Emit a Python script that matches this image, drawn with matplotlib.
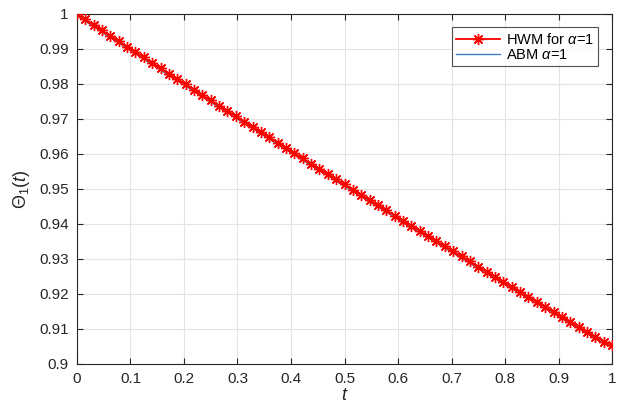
import matplotlib
matplotlib.use('Agg')
import matplotlib.pyplot as plt

# collocation points, 65 nodes on [0,1]
t = [k / 64 for k in range(65)]

hwm = [1.0000, 0.99844, 0.99688, 0.99532, 0.99377, 0.99222, 0.99067, 0.98912,
       0.98758, 0.98604, 0.98450, 0.98296, 0.98143, 0.97990, 0.97837, 0.97684,
       0.97531, 0.97379, 0.97227, 0.97075, 0.96923, 0.96772, 0.96621, 0.96470,
       0.96319, 0.96169, 0.96018, 0.95868, 0.95718, 0.95569, 0.95420, 0.95271,
       0.95123, 0.94974, 0.94826, 0.94678, 0.94530, 0.94382, 0.94235, 0.94088,
       0.93941, 0.93794, 0.93648, 0.93502, 0.93356, 0.93210, 0.93064, 0.92919,
       0.92774, 0.92629, 0.92485, 0.92340, 0.92196, 0.92052, 0.91909, 0.91765,
       0.91622, 0.91479, 0.91336, 0.91194, 0.91051, 0.90909, 0.90767, 0.90626,
       0.90520]

abm = [0.99950, 0.99794, 0.99638, 0.99482, 0.99327, 0.99172, 0.99017, 0.98862,
       0.98708, 0.98554, 0.98400, 0.98246, 0.98093, 0.97940, 0.97787, 0.97634,
       0.97481, 0.97329, 0.97177, 0.97025, 0.96873, 0.96722, 0.96571, 0.96420,
       0.96269, 0.96119, 0.95968, 0.95818, 0.95668, 0.95519, 0.95370, 0.95221,
       0.95073, 0.94924, 0.94776, 0.94628, 0.94480, 0.94332, 0.94185, 0.94038,
       0.93891, 0.93744, 0.93598, 0.93452, 0.93306, 0.93160, 0.93014, 0.92869,
       0.92724, 0.92579, 0.92435, 0.92290, 0.92146, 0.92002, 0.91859, 0.91715,
       0.91572, 0.91429, 0.91286, 0.91144, 0.91001, 0.90859, 0.90717, 0.90576,
       0.90470]

xticks = [0, 0.1, 0.2, 0.3, 0.4, 0.5, 0.6, 0.7, 0.8, 0.9, 1]
yticks = [0.9, 0.91, 0.92, 0.93, 0.94, 0.95, 0.96, 0.97, 0.98, 0.99, 1]
xticklabels = ['0', '0.1', '0.2', '0.3', '0.4', '0.5', '0.6', '0.7', '0.8', '0.9', '1']
yticklabels = ['0.9', '0.91', '0.92', '0.93', '0.94', '0.95', '0.96', '0.97', '0.98', '0.99', '1']

plt.rcParams['font.family'] = ['Liberation Sans', 'DejaVu Sans']
plt.rcParams['mathtext.fontset'] = 'custom'
plt.rcParams['mathtext.rm'] = 'Liberation Sans'
plt.rcParams['mathtext.it'] = 'Liberation Sans:italic'

axcol = '#262626'

fig = plt.figure(figsize=(6.32, 4.08), dpi=100)
ax = fig.add_axes([0.1218, 0.109, 0.8466, 0.8567])

l_abm, = ax.plot(t, abm, '-', color='#3d7fc0', lw=1.0, zorder=2)
# matlab style asterisk marker
l_hwm, = ax.plot(t, hwm, '-', marker=(8, 2, 0), color='red', lw=1.3, ms=8, mew=1.0, zorder=3)

ax.set_xlim(0, 1)
ax.set_ylim(0.9, 1)
ax.set_xticks(xticks)
ax.set_xticklabels(xticklabels)
ax.set_yticks(yticks)
ax.set_yticklabels(yticklabels)

ax.grid(True, color='#e3e3e3', lw=0.8)
ax.set_axisbelow(True)
ax.tick_params(direction='in', top=True, right=True, length=4, width=0.8,
               colors=axcol, labelsize=11, pad=6)
for s in ax.spines.values():
    s.set_color(axcol)
    s.set_linewidth(0.8)

ax.set_xlabel('$t$', fontsize=13, color=axcol, labelpad=1)
ax.set_ylabel(r'$\Theta_1(t)$', fontsize=13, color=axcol, labelpad=5)

leg = ax.legend([l_hwm, l_abm], [r'HWM for $\alpha$=1', r'ABM $\alpha$=1'],
                loc='upper right', bbox_to_anchor=(0.974, 0.962), fontsize=10.5,
                frameon=True, fancybox=False, handlelength=3.0, borderpad=0.3,
                labelspacing=0.1, handletextpad=0.4, borderaxespad=0)
leg.get_frame().set_edgecolor(axcol)
leg.get_frame().set_linewidth(0.8)

fig.savefig('out.png', dpi=100)
